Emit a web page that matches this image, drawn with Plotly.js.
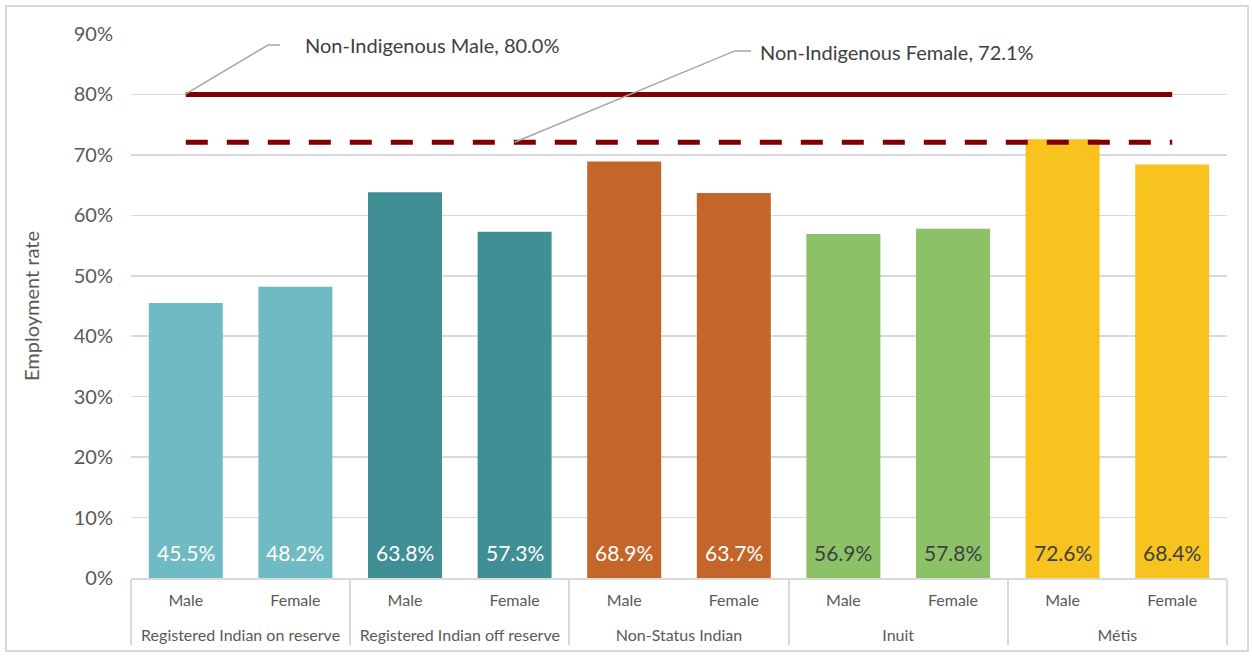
<!DOCTYPE html>
<html>
<head>
<meta charset="utf-8">
<script src="https://cdn.plot.ly/plotly-3.0.1.min.js"></script>
<style>
html,body{margin:0;padding:0;background:#fff;}
#frame{position:absolute;left:5px;top:5px;width:1240px;height:643px;border:2px solid #d9d9d9;}
#chart{position:absolute;left:0;top:0;width:1252px;height:657px;}
</style>
</head>
<body>
<div id="frame"></div>
<div id="chart"></div>
<script>
const groups = ["Registered Indian on reserve","Registered Indian on reserve","Registered Indian off reserve","Registered Indian off reserve","Non-Status Indian","Non-Status Indian","Inuit","Inuit","Métis","Métis"];
const sexes = ["Male","Female","Male","Female","Male","Female","Male","Female","Male","Female"];
const rates = [45.5, 48.2, 63.8, 57.3, 68.9, 63.7, 56.9, 57.8, 72.6, 68.4];
const barColors = ["#6fbac3","#6fbac3","#408f94","#408f94","#c4652a","#c4652a","#8cc168","#8cc168","#f9c31f","#f9c31f"];
const labelColors = ["#ffffff","#ffffff","#ffffff","#ffffff","#ffffff","#ffffff","#404040","#404040","#404040","#404040"];
const nonIndigMale = 80.0;
const nonIndigFemale = 72.1;
const refLabels = ["Non-Indigenous Male, 80.0%","Non-Indigenous Female, 72.1%"];

const FONT = "Lato, 'Open Sans', sans-serif";
const x = [groups, sexes.map(s => s + "<br>&nbsp;")];

const traces = [
  {type:"bar", x:x, y:rates.map(v=>v/100), marker:{color:barColors}, hoverinfo:"skip", showlegend:false},
  {type:"scatter", mode:"lines", x:x, y:rates.map(()=>nonIndigMale/100), line:{color:"#7f0000", width:5}, showlegend:false, hoverinfo:"skip"},
  {type:"scatter", mode:"lines", x:x, y:rates.map(()=>nonIndigFemale/100), line:{color:"#7f0000", width:5, dash:"22px,19px"}, showlegend:false, hoverinfo:"skip"}
];

const n = rates.length;
const annotations = rates.map((v,i)=>({
  xref:"paper", yref:"y", x:(i+0.5)/n, y:0, yanchor:"bottom", xanchor:"center", yshift:11,
  text:v.toFixed(1)+"%", showarrow:false, font:{family:FONT, size:21, color:labelColors[i]}
}));
annotations.push({xref:"paper", yref:"y", x:0.157, y:0.882, xanchor:"left", yanchor:"middle", text:refLabels[0], showarrow:false, font:{family:FONT,size:20,color:"#404040"}});
annotations.push({xref:"paper", yref:"y", x:0.572, y:0.870, xanchor:"left", yanchor:"middle", text:refLabels[1], showarrow:false, font:{family:FONT,size:20,color:"#404040"}});

const shapes = [
  {type:"path", xref:"paper", yref:"y", path:"M 0.0493 0.8 L 0.125 0.8818 L 0.136 0.8818", line:{color:"#a6a6a6", width:1.5}},
  {type:"path", xref:"paper", yref:"y", path:"M 0.350 0.721 L 0.551 0.872 L 0.5657 0.872", line:{color:"#a6a6a6", width:1.5}}
];

const layout = {
  width:1252, height:657,
  margin:{l:131, r:25, t:34, b:79},
  paper_bgcolor:"rgba(0,0,0,0)", plot_bgcolor:"rgba(0,0,0,0)",
  bargap:0.325,
  font:{family:FONT, color:"#595959"},
  xaxis:{type:"multicategory", showdividers:true, dividercolor:"#d9d9d9", dividerwidth:2,
         showline:true, linecolor:"#d9d9d9", linewidth:2, tickfont:{size:16, color:"#595959"},
         ticks:"", showgrid:false, ticklabelstandoff:7},
  yaxis:{range:[0,0.9], dtick:0.1, tickformat:".0%", showgrid:true, gridcolor:"#d9d9d9", gridwidth:1.5,
         zeroline:false, showline:false, tickfont:{size:20, color:"#595959"}, ticklabelstandoff:17,
         title:{text:"Employment rate", font:{size:20, color:"#595959"}, standoff:28}},
  annotations:annotations,
  shapes:shapes
};
Plotly.newPlot("chart", traces, layout, {displayModeBar:false, staticPlot:true});
</script>
</body>
</html>
